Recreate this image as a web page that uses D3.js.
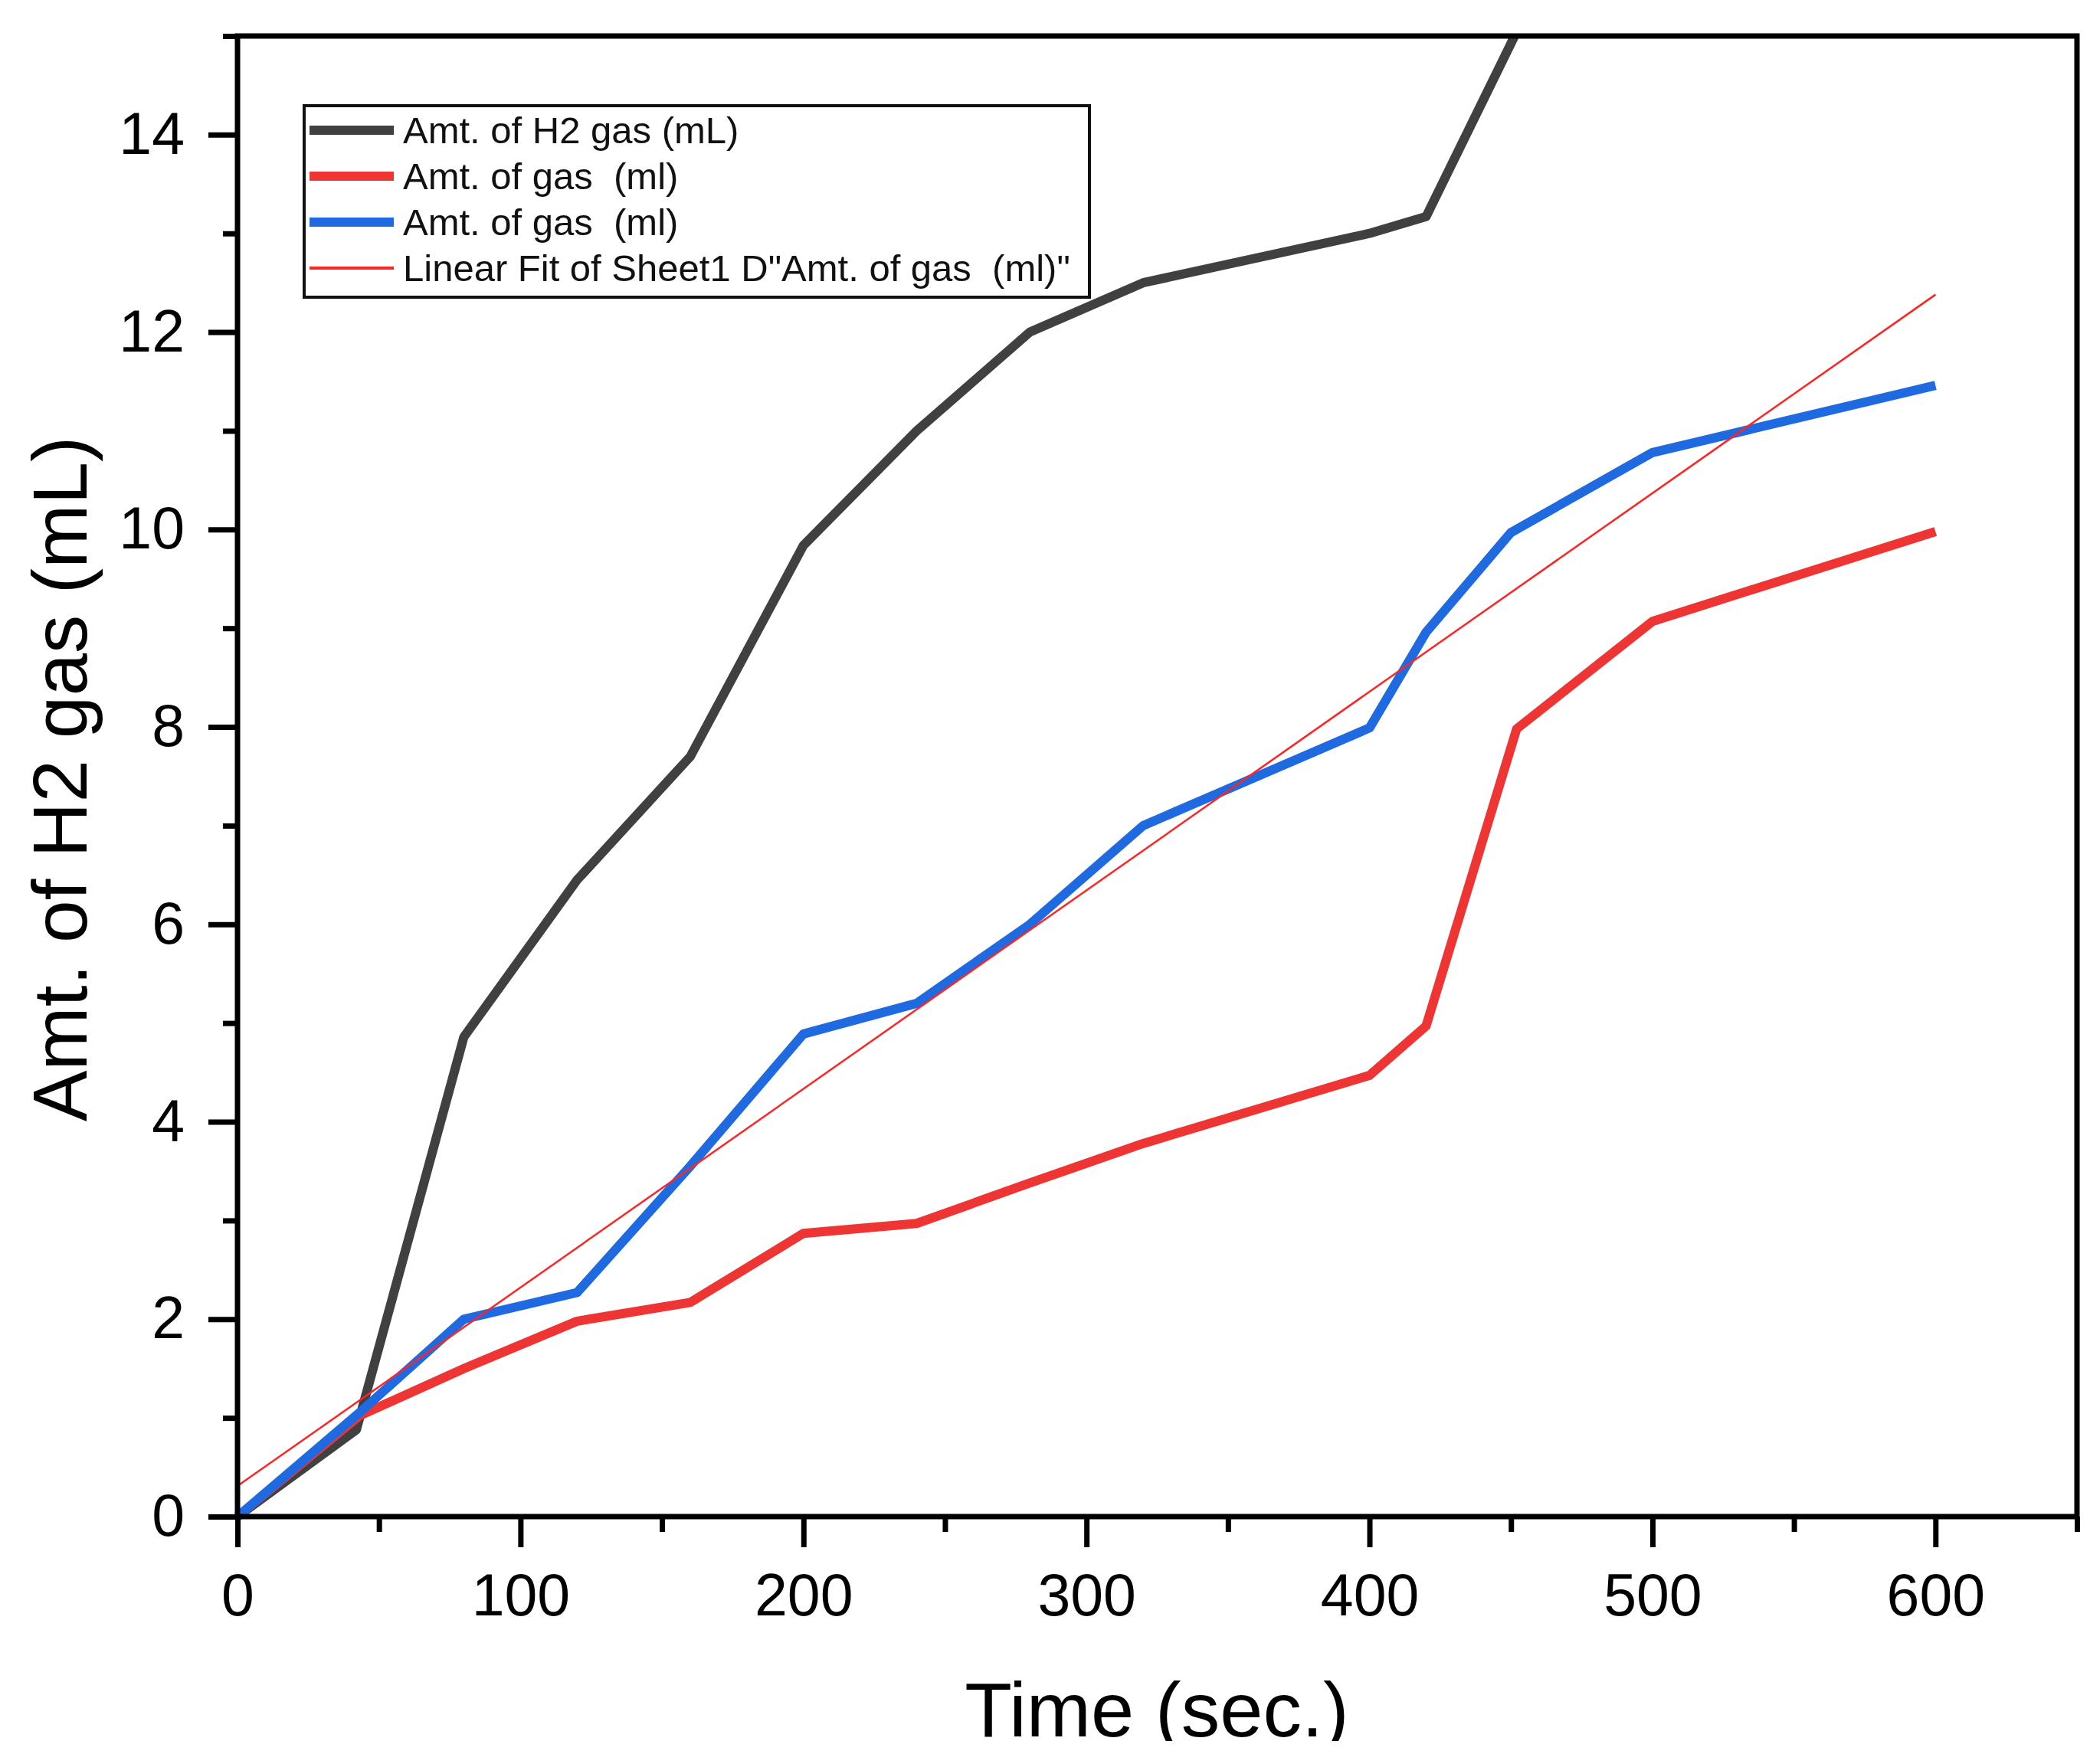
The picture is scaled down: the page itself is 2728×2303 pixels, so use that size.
<!DOCTYPE html>
<html lang="en">
<head>
<meta charset="utf-8">
<script src="https://d3js.org/d3.v7.min.js"></script>
<style>
  body { margin: 0; background: #fff; }
  text { font-family: "Liberation Sans", Arial, sans-serif; }
</style>
</head>
<body>
<div id="chart"></div>
<script>
// values
var timeH2 = [0, 42, 80, 120, 160, 200, 240, 280, 320, 400, 420, 453];
var amtH2 = [0, 0.88, 4.86, 6.45, 7.7, 9.84, 11.0, 12.0, 12.5, 13.0, 13.17, 15.1];

var timeRed = [0, 43, 80, 120, 160, 200, 240, 280, 320, 400, 420, 452, 500, 600];
var amtRed = [0, 1.02, 1.5, 1.98, 2.17, 2.87, 2.97, 3.38, 3.78, 4.47, 4.97, 7.98, 9.07, 9.98];

var timeBlue = [0, 43, 80, 120, 160, 200, 240, 280, 320, 400, 420, 450, 500, 600];
var amtBlue = [0, 1.05, 2.0, 2.27, 3.55, 4.89, 5.2, 6.0, 7.0, 7.99, 8.96, 9.97, 10.78, 11.46];

// linear fit end points
var fitTime = [0, 600];
var fitAmt = [0.31, 12.38];

var xTicks = [0, 100, 200, 300, 400, 500, 600];
var xMinor = [50, 150, 250, 350, 450, 550, 650];
var yTicks = [0, 2, 4, 6, 8, 10, 12, 14];
var yMinor = [1, 3, 5, 7, 9, 11, 13, 15];

var legendLabels = ["Amt. of H2 gas (mL)", "Amt. of gas  (ml)", "Amt. of gas  (ml)",
                    "Linear Fit of Sheet1 D\"Amt. of gas  (ml)\""];

// size of page and plot box
var width = 2728;
var height = 2303;
var plotLeft = 310, plotRight = 2711, plotTop = 47, plotBottom = 1980;

var svg = d3.select("#chart")
            .append("svg")
            .attr("width", width)
            .attr("height", height);

var xScale = d3.scaleLinear().domain([0, 650]).range([plotLeft, plotRight]);
var yScale = d3.scaleLinear().domain([0, 15]).range([plotBottom, plotTop]);

function zip(xs, ys) {
    return xs.map(function(d, i) { return {x: d, y: ys[i]}; });
}

var series = [
    {data: zip(timeH2, amtH2), color: "#404040", width: 12},
    {data: zip(timeRed, amtRed), color: "#ef3434", width: 12},
    {data: zip(timeBlue, amtBlue), color: "#1f6ae0", width: 12},
    {data: zip(fitTime, fitAmt), color: "#ff2424", width: 2.5}
];

// clip lines to the plot box (top side mainly)
svg.append("clipPath")
    .attr("id", "chart-area")
    .append("rect")
    .attr("x", plotLeft - 20)
    .attr("y", plotTop)
    .attr("width", plotRight - plotLeft + 20)
    .attr("height", plotBottom - plotTop + 20);

var line = d3.line()
    .x(function(d) { return xScale(d.x); })
    .y(function(d) { return yScale(d.y); });

svg.append("g")
    .attr("clip-path", "url(#chart-area)")
    .selectAll("path")
    .data(series)
    .enter()
    .append("path")
    .attr("d", function(d) { return line(d.data); })
    .attr("fill", "none")
    .attr("stroke", function(d) { return d.color; })
    .attr("stroke-width", function(d) { return d.width; })
    .attr("stroke-linejoin", "round");

// frame
svg.append("rect")
    .attr("x", plotLeft)
    .attr("y", plotTop)
    .attr("width", plotRight - plotLeft)
    .attr("height", plotBottom - plotTop)
    .attr("fill", "none")
    .attr("stroke", "#000")
    .attr("stroke-width", 7);

// x axis, major + minor
var xAxis = d3.axisBottom(xScale).tickValues(xTicks).tickSize(40).tickSizeOuter(0).tickPadding(34);
var xAxisMinor = d3.axisBottom(xScale).tickValues(xMinor).tickSize(20).tickSizeOuter(0).tickFormat("");

svg.append("g")
    .attr("class", "x axis")
    .attr("transform", "translate(0," + plotBottom + ")")
    .call(xAxis);
svg.append("g")
    .attr("class", "x axis")
    .attr("transform", "translate(0," + plotBottom + ")")
    .call(xAxisMinor);

// y axis, major + minor
var yAxis = d3.axisLeft(yScale).tickValues(yTicks).tickSize(38).tickSizeOuter(0).tickPadding(31);
var yAxisMinor = d3.axisLeft(yScale).tickValues(yMinor).tickSize(19).tickSizeOuter(0).tickFormat("");

svg.append("g")
    .attr("class", "y axis")
    .attr("transform", "translate(" + plotLeft + ",0)")
    .call(yAxis);
svg.append("g")
    .attr("class", "y axis")
    .attr("transform", "translate(" + plotLeft + ",0)")
    .call(yAxisMinor);

svg.selectAll(".axis .domain").remove();
svg.selectAll(".axis line").attr("stroke", "#000").attr("stroke-width", 7);
svg.selectAll(".axis text")
    .attr("fill", "#000")
    .style("font-size", "77px")
    .style("font-family", "'Liberation Sans', Arial, sans-serif");

// axis titles
svg.append("clipPath")
    .attr("id", "title-cut")
    .append("rect")
    .attr("x", 0).attr("y", 0)
    .attr("width", width).attr("height", 2273);

svg.append("text")
    .attr("x", 1510)
    .attr("y", 2267)
    .attr("text-anchor", "middle")
    .attr("clip-path", "url(#title-cut)")
    .style("font-size", "101px")
    .text("Time (sec.)");

svg.append("text")
    .attr("transform", "translate(113,1017) rotate(-90)")
    .attr("text-anchor", "middle")
    .style("font-size", "100px")
    .text("Amt. of H2 gas (mL)");

// legend
var legend = svg.append("g").attr("class", "legend");
legend.append("rect")
    .attr("x", 397)
    .attr("y", 138)
    .attr("width", 1025)
    .attr("height", 250)
    .attr("fill", "#fff")
    .attr("stroke", "#111")
    .attr("stroke-width", 4);

var rows = legend.selectAll(".row")
    .data(legendLabels)
    .enter()
    .append("g")
    .attr("class", "row")
    .attr("transform", function(d, i) { return "translate(0," + (187 + i * 60) + ")"; });

rows.append("line")
    .attr("x1", 404).attr("x2", 514)
    .attr("y1", -17).attr("y2", -17)
    .attr("stroke", function(d, i) { return series[i].color; })
    .attr("stroke-width", function(d, i) { return i < 3 ? 12 : 4; });

rows.append("text")
    .attr("x", 526)
    .attr("y", 0)
    .style("font-size", "49px")
    .style("white-space", "pre")
    .attr("fill", "#111")
    .text(function(d) { return d; });
</script>
</body>
</html>
